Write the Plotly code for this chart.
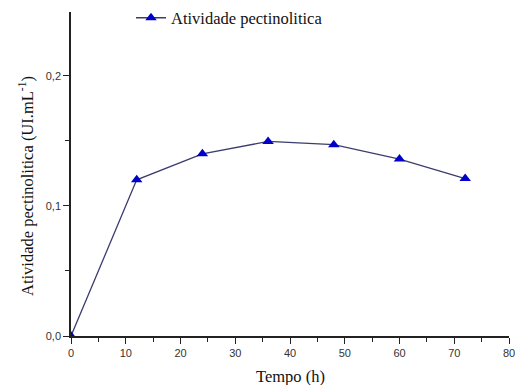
import plotly.graph_objects as go

tempo = [0, 12, 24, 36, 48, 60, 72]
atividade = [0.0, 0.120, 0.140, 0.1495, 0.147, 0.136, 0.121]
serie_nome = "Atividade pectinolitica"
x_titulo = "Tempo (h)"
y_titulo = "Atividade pectinolitica (UI.mL<sup>-1</sup>)"
x_ticks = [0, 10, 20, 30, 40, 50, 60, 70, 80]
y_ticks = [0.0, 0.1, 0.2]

serif = "Liberation Serif, Times New Roman"
W, H = 515, 385
L, R, T, B = 71, 6, 12, 49
PW, PH = W - L - R, H - T - B

fig = go.Figure()
fig.add_trace(go.Scatter(
    x=tempo, y=atividade, mode="lines+markers", name=serie_nome,
    line=dict(color="#3c3c6e", width=1.3),
    marker=dict(symbol="triangle-up", size=10, color="#0000c8", line=dict(width=0)),
))

axis_common = dict(
    showline=True, linecolor="#222222", linewidth=1.5, mirror=False,
    showgrid=False, zeroline=False, ticks="outside", ticklen=6, tickwidth=1.3,
    tickcolor="#222222", automargin=False, ticklabeloverflow="allow",
    tickfont=dict(family="Liberation Sans, Arial", size=11, color="#333333"),
)

fig.update_layout(
    width=W, height=H,
    margin=dict(l=L, r=R, t=T, b=B, autoexpand=False),
    paper_bgcolor="white", plot_bgcolor="white",
    separators=",.",
    showlegend=True,
    legend=dict(x=131 / W, y=1 - 18 / H, xref="container", yref="container",
                xanchor="left", yanchor="middle",
                font=dict(family=serif, size=16.5, color="#111111"),
                bgcolor="rgba(0,0,0,0)"),
    xaxis=dict(range=[0, 80], tickvals=x_ticks,
               minor=dict(dtick=5, ticks="outside", ticklen=4, tickwidth=1.2, tickcolor="#222222"),
               **axis_common),
    yaxis=dict(range=[0, 0.249], tickvals=y_ticks, tickformat=".1f",
               minor=dict(tickvals=[0.05, 0.15], ticks="outside", ticklen=4, tickwidth=1.2, tickcolor="#222222"),
               **axis_common),
    annotations=[
        dict(text=x_titulo, xref="paper", yref="paper", x=0.5, y=-40 / PH,
             xanchor="center", yanchor="middle", showarrow=False,
             font=dict(family=serif, size=16.5, color="#111111")),
        dict(text=y_titulo, xref="paper", yref="paper", x=-44 / PW, y=0.463,
             xanchor="center", yanchor="middle", textangle=-90, showarrow=False,
             font=dict(family=serif, size=16.5, color="#111111")),
    ],
)

fig.write_html("out.html", config={"displayModeBar": False},
               post_script="document.body.style.margin='0';document.body.style.overflow='hidden';")
